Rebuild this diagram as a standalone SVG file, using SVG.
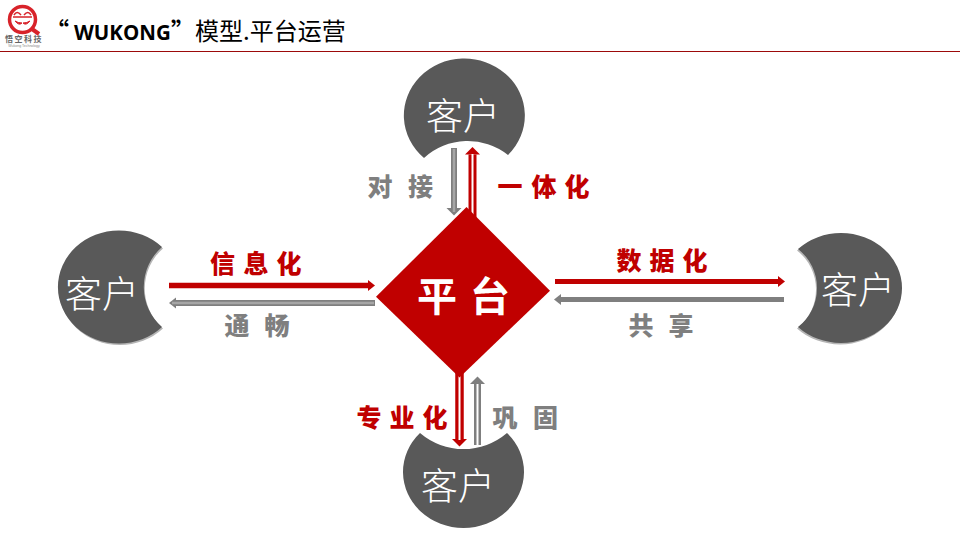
<svg xmlns="http://www.w3.org/2000/svg" width="960" height="540" viewBox="0 0 960 540">
<style>
.c{font-family:"Noto Sans CJK SC",sans-serif;font-size:37px;fill:#fff;text-anchor:middle;font-weight:300}
.l{font-family:"Noto Sans CJK SC",sans-serif;font-size:25px;font-weight:900;text-anchor:middle}
.r{fill:#c00000}.g{fill:#7f7f7f}
.disc{fill:#595959}
.sh{fill:#b5b5b5}
.cn{fill:none}
.sr{stroke:#c00000}.sg{stroke:#7f7f7f}
.ih{stroke:#fff;stroke-width:2}
.ig{stroke:#a6a6a6;stroke-width:2.500}
.ttl{font-family:"Noto Sans CJK SC",sans-serif;font-size:24px;fill:#000}
</style>
<defs>
<marker id="ar" markerUnits="userSpaceOnUse" markerWidth="8" markerHeight="16" refX="0" refY="8" orient="auto"><path d="M0 0.500L7.500 8L0 15.500Z" fill="#c00000"/></marker>
<marker id="ag" markerUnits="userSpaceOnUse" markerWidth="8" markerHeight="16" refX="0" refY="8" orient="auto"><path d="M0 0.500L7.500 8L0 15.500Z" fill="#7f7f7f"/></marker>
<marker id="arh" markerUnits="userSpaceOnUse" markerWidth="8" markerHeight="14" refX="0" refY="7" orient="auto"><path d="M0 1.500L7 7L0 12.500Z" fill="#c00000"/></marker>
<marker id="agh" markerUnits="userSpaceOnUse" markerWidth="8" markerHeight="14" refX="0" refY="7" orient="auto"><path d="M0 1.500L7 7L0 12.500Z" fill="#7f7f7f"/></marker>
</defs>
<rect width="960" height="540" fill="#fff"/>
<g id="header">
<g id="logo" fill="none" stroke="#d8232a">
<circle cx="22.500" cy="19.500" r="13" stroke-width="3.500"/>
<path d="M32 29L39 34" stroke-width="4"/>
<path d="M14 15q3-5 7 0M31 15q-3-5-7 0M13 17h19" stroke-width="1.500"/>
<path d="M15 21q4 5 7 2q-4 0-7-2ZM30 21q-4 5-7 2q4 0 7-2Z" fill="#d8232a" stroke-width="1"/>
<text x="24" y="41.500" font-size="8" letter-spacing="1.500" font-weight="700" font-family="Noto Sans CJK SC,sans-serif" fill="#666" stroke="none" text-anchor="middle">悟空科技</text>
<text x="24" y="47" font-size="3.500" font-family="Liberation Sans,sans-serif" fill="#888" stroke="none" text-anchor="middle">Wukong Technology</text>
</g>
<text class="ttl" x="45" y="40" font-weight="700">“</text>
<text x="74" y="40" font-family="Open Sans,sans-serif" font-size="20.500" font-weight="700" fill="#000">WUKONG</text>
<text class="ttl" x="171" y="40" font-weight="700">”</text>
<text class="ttl" x="195" y="40">模型.平台运营</text>
<path d="M0 51.500H960" stroke="#9c0a0a" stroke-width="1"/>
</g>
<g id="connectors" class="cn">
<path class="sg" d="M454 148V208" stroke-width="6" marker-end="url(#ag)"/>
<path class="ig" d="M454 149V212"/>
<path class="sr" d="M472.500 218V154.500" stroke-width="8" marker-end="url(#ar)"/>
<path class="ih" d="M472.500 218V154"/>
<path class="sr" d="M169 285.500H368" stroke-width="5.500" marker-end="url(#arh)"/>
<path class="sg" d="M375 303H176" stroke-width="6" marker-end="url(#agh)"/>
<path class="ig" d="M374 303H172"/>
<path class="sr" d="M555 281.500H778" stroke-width="5" marker-end="url(#arh)"/>
<path class="sg" d="M784 299.500H561" stroke-width="5" marker-end="url(#agh)"/>
<path class="sr" d="M459.500 370V439" stroke-width="8.500" marker-end="url(#ar)"/>
<path class="ih" d="M459.500 370V440"/>
<path class="sg" d="M477.500 445V384" stroke-width="7" marker-end="url(#ag)"/>
<path class="ih" d="M477.500 445V384"/>
</g>
<g id="node-platform"><path d="M466.500 207L550 290.700L459.500 377.500L376 296.700Z" fill="#c00000"/>
<text x="437 490" y="311" font-family="Noto Sans CJK SC,sans-serif" font-size="40" font-weight="700" fill="#fff" text-anchor="middle">平台</text></g>
<g id="node-top"><path class="disc" d="M424 158A60.500 57 0 1 1 508 155A65 65 0 0 0 424 158Z"/><text x="463" y="130" class="c">客户</text></g>
<g id="node-left"><path class="sh" transform="translate(1 1.500)" d="M162 247A61 56.500 0 1 0 162 327A53 53 0 0 1 162 247Z"/><path class="disc" d="M162 247A61 56.500 0 1 0 162 327A53 53 0 0 1 162 247Z"/><text x="102" y="308" class="c">客户</text></g>
<g id="node-right"><path class="sh" transform="translate(-1 1.500)" d="M798 249A61 55 0 1 1 798 327A49.500 49.500 0 0 0 798 249Z"/><path class="disc" d="M798 249A61 55 0 1 1 798 327A49.500 49.500 0 0 0 798 249Z"/><text x="858" y="304" class="c">客户</text></g>
<g id="node-bottom"><path class="disc" d="M420 433A60.500 56 0 1 0 507 433A67 67 0 0 1 420 433Z"/><text x="458" y="500" class="c">客户</text></g>
<g id="labels">
<text x="510 544 577" y="196" class="l r">一体化</text>
<text x="380 420.500" y="196" class="l g">对接</text>
<text x="222.500 256 289" y="273" class="l r">信息化</text>
<text x="237 277" y="335" class="l g">通畅</text>
<text x="629 662 695" y="270" class="l r">数据化</text>
<text x="641 681" y="335" class="l g">共享</text>
<text x="369 402 435" y="427" class="l r">专业化</text>
<text x="505 545.500" y="427" class="l g">巩固</text>
</g>
</svg>
